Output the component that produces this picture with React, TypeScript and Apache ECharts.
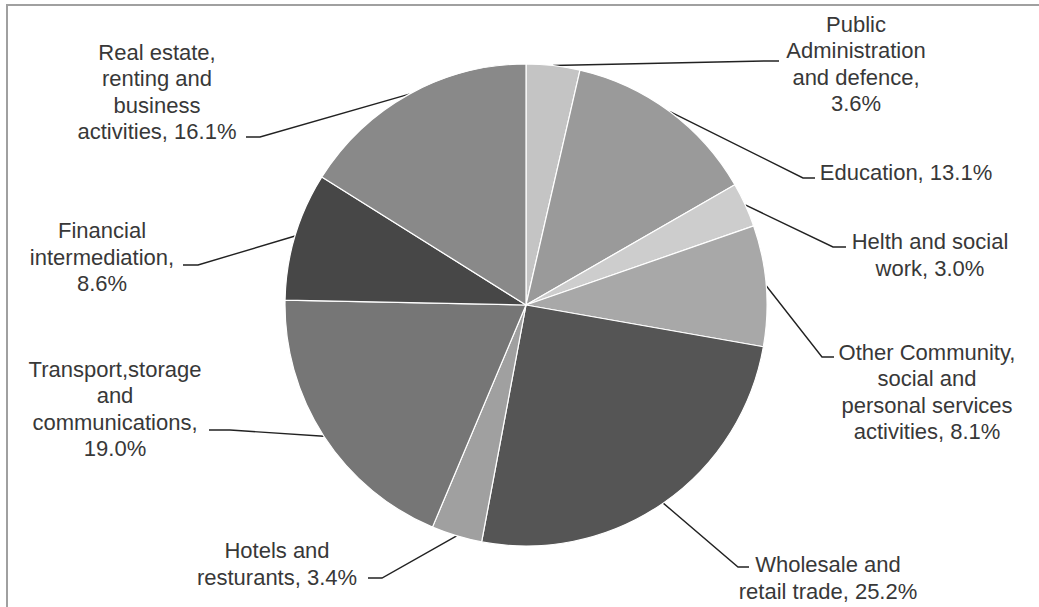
import React, { useEffect, useRef } from "react";
import * as echarts from "echarts";

const categories = [
  "Public Administration and defence",
  "Education",
  "Helth and social work",
  "Other Community, social and personal services activities",
  "Wholesale and retail trade",
  "Hotels and resturants",
  "Transport,storage and communications",
  "Financial intermediation",
  "Real estate, renting and business activities",
];

const shares = [3.6, 13.1, 3.0, 8.1, 25.2, 3.4, 19.0, 8.6, 16.1];

const labelTemplates = [
  "Public\nAdministration\nand defence,\n{v}%",
  "Education, {v}%",
  "Helth and social\nwork, {v}%",
  "Other Community,\nsocial and\npersonal services\nactivities, {v}%",
  "Wholesale and\nretail trade, {v}%",
  "Hotels and\nresturants, {v}%",
  "Transport,storage\nand\ncommunications,\n{v}%",
  "Financial\nintermediation,\n{v}%",
  "Real estate,\nrenting and\nbusiness\nactivities, {v}%",
];

const sliceColors = [
  "#c4c4c4",
  "#9a9a9a",
  "#cdcdcd",
  "#a8a8a8",
  "#555555",
  "#a0a0a0",
  "#767676",
  "#474747",
  "#898989",
];

// label block centres and leader-line end points (layout only)
const labelPlaces = [
  { x: 856, y: 64, bend: [765, 61], end: [779, 61] },
  { x: 906, y: 172, bend: [803, 178], end: [815, 178] },
  { x: 930, y: 255, bend: [833, 247], end: [846, 247] },
  { x: 927, y: 392, bend: [822, 357], end: [834, 357] },
  { x: 828, y: 578, bend: [738, 567], end: [749, 567] },
  { x: 277, y: 564, bend: [382, 578], end: [368, 578] },
  { x: 115, y: 409, bend: [230, 430], end: [209, 430] },
  { x: 102, y: 257, bend: [198, 265], end: [183, 265] },
  { x: 157, y: 92, bend: [260, 137], end: [246, 137] },
];

export default function App() {
  const ref = useRef<HTMLDivElement>(null);

  useEffect(() => {
    if (!ref.current) return;
    const chart = echarts.init(ref.current, null, { renderer: "svg" });
    const cx = 526;
    const cy = 305;
    const r = 241;
    const total = shares.reduce((a, b) => a + b, 0);

    chart.setOption({
      animation: false,
      backgroundColor: "#ffffff",
      graphic: [
        {
          type: "rect",
          shape: { x: 7, y: 5, width: 1100, height: 700 },
          style: { fill: "none", stroke: "#a0a0a0", lineWidth: 2 },
          silent: true,
        },
      ],
      series: [
        {
          type: "pie",
          center: [cx, cy],
          radius: [0, r],
          startAngle: 90,
          clockwise: true,
          avoidLabelOverlap: false,
          emphasis: { disabled: true },
          itemStyle: { borderColor: "#ffffff", borderWidth: 1.2 },
          label: {
            show: true,
            position: "outside",
            color: "#383838",
            fontFamily: "Liberation Sans, Arial, sans-serif",
            fontSize: 22,
            lineHeight: 26.5,
            align: "center",
            formatter: (p: any) =>
              labelTemplates[p.dataIndex].replace("{v}", shares[p.dataIndex].toFixed(1)),
          },
          labelLine: {
            show: true,
            smooth: false,
            length: 10,
            length2: 10,
            lineStyle: { color: "#222222", width: 1.4 },
          },
          labelLayout: (params: any) => {
            const i = params.dataIndex;
            const pl = labelPlaces[i];
            let start: number[];
            if (params.labelLinePoints && params.labelLinePoints[0]) {
              start = params.labelLinePoints[0];
            } else {
              let cum = 0;
              for (let k = 0; k < i; k++) cum += shares[k];
              const a = ((cum + shares[i] / 2) / total) * Math.PI * 2;
              start = [cx + r * Math.sin(a), cy - r * Math.cos(a)];
            }
            return {
              x: pl.x,
              y: pl.y,
              align: "center",
              verticalAlign: "middle",
              hideOverlap: false,
              moveOverlap: false,
              labelLinePoints: [start, pl.bend, pl.end],
            };
          },
          data: categories.map((name, i) => ({
            name,
            value: shares[i],
            itemStyle: { color: sliceColors[i] },
          })),
        },
      ],
    });
    return () => chart.dispose();
  }, []);

  return (
    <div
      ref={ref}
      style={{ position: "absolute", left: 0, top: 0, width: 1039, height: 607 }}
    />
  );
}
